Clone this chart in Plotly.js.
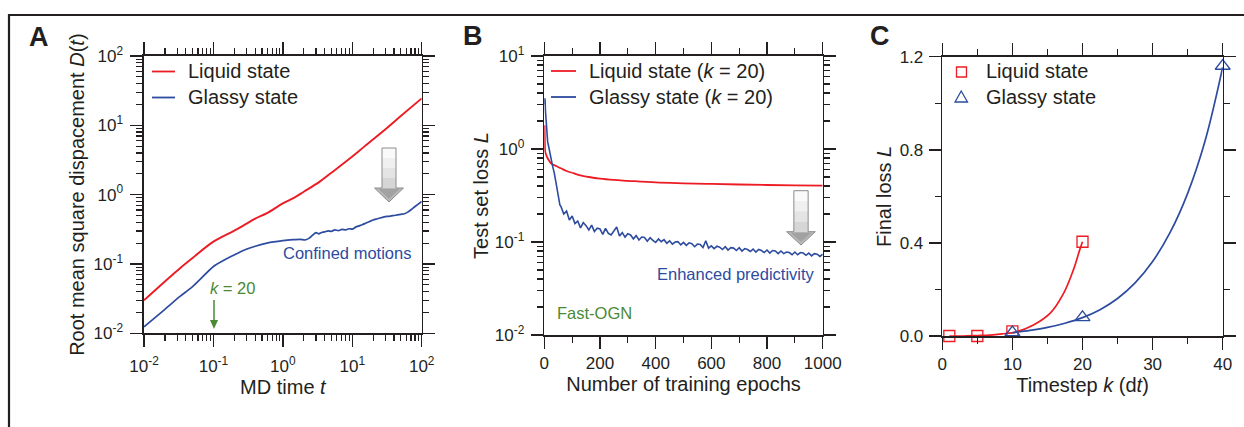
<!DOCTYPE html>
<html><head><meta charset="utf-8">
<script src="https://cdn.plot.ly/plotly-3.0.1.min.js"></script>
<style>html,body{margin:0;padding:0;background:#fff}#chart{width:1244px;height:427px}</style>
</head><body><div id="chart"></div>
<script>
// ---------- Panel A data: root mean square displacement vs MD time ----------
const tA_liquid = [0.01,0.02,0.033,0.05,0.1,0.2,0.28,0.4,0.59,1,1.42,2,3.4,5,9.3,15,31.3,50,100];
const DA_liquid = [0.030,0.056,0.087,0.122,0.21,0.303,0.366,0.45,0.54,0.75,0.89,1.10,1.54,2.07,3.35,4.97,9.08,13.6,24.5];
const tA_glassy = [0.01,0.02,0.033,0.05,0.1,0.15,0.2,0.28,0.4,0.59,1,1.4,1.78,2.1,2.4,2.7,3.0,3.3,3.6,4.0,4.5,5,5.6,6.3,7.1,8,9,10,11.2,12.6,14.1,15.8,17.8,20,22.4,25.1,28.2,31.6,35.5,39.8,44.7,50.1,56.2,63.1,70.8,79.4,89.1,100];
const DA_glassy = [0.0124,0.0222,0.034,0.047,0.092,0.117,0.135,0.159,0.18,0.20,0.217,0.224,0.227,0.222,0.236,0.262,0.283,0.272,0.285,0.29,0.30,0.296,0.31,0.302,0.315,0.31,0.322,0.318,0.34,0.355,0.37,0.39,0.41,0.43,0.445,0.46,0.475,0.485,0.49,0.50,0.51,0.52,0.53,0.56,0.61,0.67,0.73,0.80];

// ---------- Panel B data: test set loss vs training epochs ----------
const epB_liquid = [1,2,3,6,10,16,24,40,60,80,104,130,160,200,250,300,400,500,600,700,800,900,1000];
const LB_liquid = [1.8,1.2,0.95,0.88,0.82,0.76,0.70,0.66,0.62,0.58,0.55,0.52,0.5,0.48,0.465,0.455,0.437,0.428,0.421,0.415,0.41,0.406,0.403];
const epB_glassy = [1,2,3,4,6,9,12,16,20,25,30,36,42,48,52,56,60,70,80,90,100,110,120,130,140,150,160,170,180,190,200,210,220,230,240,250,260,270,280,290,300,310,320,330,340,350,360,370,380,390,400,410,420,430,440,450,460,470,480,490,500,510,520,530,540,550,560,570,580,590,600,610,620,630,640,650,660,670,680,690,700,710,720,730,740,750,760,770,780,790,800,810,820,830,840,850,860,870,880,890,900,910,920,930,940,950,960,970,980,990,1000];
const LB_glassy = [3.0,3.5,3.3,2.6,2.1,1.5,1.2,1.05,0.9,0.75,0.65,0.55,0.42,0.32,0.28,0.25,
 0.24,0.20,0.215,0.172,0.19,0.158,0.168,0.142,0.162,0.15,0.135,0.152,0.13,0.141,0.138,0.121,0.14,0.124,0.119,0.133,0.145,0.116,0.126,0.113,0.123,0.119,0.108,0.117,0.105,0.113,0.112,0.102,0.111,0.104,0.099,0.108,0.101,0.106,0.097,0.103,0.095,0.1,0.101,0.093,0.099,0.092,0.098,0.096,0.089,0.095,0.094,0.087,0.103,0.086,0.091,0.085,0.09,0.088,0.083,0.089,0.082,0.087,0.086,0.081,0.087,0.08,0.085,0.083,0.079,0.084,0.078,0.083,0.081,0.077,0.082,0.076,0.081,0.08,0.075,0.08,0.075,0.078,0.077,0.073,0.078,0.073,0.077,0.076,0.072,0.076,0.071,0.075,0.074,0.07,0.074];

// ---------- Panel C data: final loss vs timestep ----------
const kC_liquid = [1,5,10,20];
const LC_liquid = [0,0,0.02,0.405];
const kC_glassy = [10,20,40];
const LC_glassy = [0.015,0.08,1.16];
const kC_liquidFit = [1,3,5,6.8,8.5,10.6,13,15.4,17.3,18.7,19.6,20];
const LC_liquidFit = [0,0,0.002,0.004,0.009,0.018,0.047,0.098,0.183,0.284,0.37,0.405];
const kC_glassyFit = [10,12.5,15,17.5,20,22.5,25,27.5,30,32.5,35,37.5,40];
const LC_glassyFit = [0.014,0.024,0.037,0.055,0.079,0.113,0.161,0.228,0.32,0.445,0.613,0.84,1.155];

// ---------- tick labels ----------
const logValsA = [0.01,0.1,1,10,100];
const logTextA = ['10<sup>-2</sup>','10<sup>-1</sup>','10<sup>0</sup>','10<sup>1</sup>','10<sup>2</sup>'];
const logValsB = [0.01,0.1,1,10];
const logTextB = ['10<sup>-2</sup>','10<sup>-1</sup>','10<sup>0</sup>','10<sup>1</sup>'];

const RED = '#ec1c24', BLUE = '#2d4b9f', GREEN = '#4a8a35', INK = '#231f20';
const FONT = 'Liberation Sans, Arial, Helvetica, sans-serif';
const W = 1244, H = 427;
const px = x => x / W, py = y => 1 - y / H;

function minorLog(lo, hi) {
  const out = [];
  for (let d = lo; d < hi; d++) for (let m = 2; m <= 9; m++) out.push(m * Math.pow(10, d));
  return out;
}

const minorStyle = {ticks: 'outside', ticklen: 6, tickwidth: 1.2, tickcolor: INK, showgrid: false};
function axisBase(extra) {
  return Object.assign({
    showline: true, linecolor: INK, linewidth: 1.6, mirror: 'ticks',
    ticks: 'outside', ticklen: 12, tickwidth: 1.4, tickcolor: INK,
    showgrid: false, zeroline: false, fixedrange: true,
    tickfont: {family: FONT, size: 17, color: INK}
  }, extra);
}
const titleFont = {family: FONT, size: 20, color: INK};

const traces = [
  {x: tA_liquid, y: DA_liquid, xaxis: 'x', yaxis: 'y', mode: 'lines', line: {color: RED, width: 1.9, shape: 'spline'}, name: 'Liquid state', showlegend: false},
  {x: tA_glassy, y: DA_glassy, xaxis: 'x', yaxis: 'y', mode: 'lines', line: {color: BLUE, width: 1.7, shape: 'spline', smoothing: 0.6}, name: 'Glassy state', showlegend: false},
  {x: epB_liquid, y: LB_liquid, xaxis: 'x2', yaxis: 'y2', mode: 'lines', line: {color: RED, width: 1.8, shape: 'spline'}, name: 'Liquid state (k = 20)', showlegend: false},
  {x: epB_glassy, y: LB_glassy, xaxis: 'x2', yaxis: 'y2', mode: 'lines', line: {color: BLUE, width: 1.6}, name: 'Glassy state (k = 20)', showlegend: false},
  {x: kC_liquidFit, y: LC_liquidFit, xaxis: 'x3', yaxis: 'y3', mode: 'lines', line: {color: RED, width: 1.7, shape: 'spline'}, showlegend: false, cliponaxis: false},
  {x: kC_glassyFit, y: LC_glassyFit, xaxis: 'x3', yaxis: 'y3', mode: 'lines', line: {color: BLUE, width: 1.7, shape: 'spline'}, showlegend: false, cliponaxis: false},
  {x: kC_liquid, y: LC_liquid, xaxis: 'x3', yaxis: 'y3', mode: 'markers', name: 'Liquid state', showlegend: false, cliponaxis: false,
   marker: {symbol: 'square-open', size: 11, color: RED, line: {width: 1.3, color: RED}}},
  {x: kC_glassy, y: LC_glassy, xaxis: 'x3', yaxis: 'y3', mode: 'markers', name: 'Glassy state', showlegend: false, cliponaxis: false,
   marker: {symbol: 'triangle-up-open', size: 13, color: BLUE, line: {width: 1.3, color: BLUE}}}
];

function grayArrow(cx, shaftW, headW, top, headStart, tip) {
  const shapes = [];
  const bands = ['#fafafa', '#f0f0f0', '#e4e4e4', '#d6d6d6'];
  const h = (headStart - top) / bands.length;
  bands.forEach((c, i) => shapes.push({type: 'rect', xref: 'paper', yref: 'paper',
    x0: px(cx - shaftW / 2), x1: px(cx + shaftW / 2), y0: py(top + h * (i + 1)), y1: py(top + h * i),
    fillcolor: c, line: {width: 0}}));
  shapes.push({type: 'path', xref: 'paper', yref: 'paper',
    path: `M ${px(cx + headW / 2)} ${py(headStart)} L ${px(cx)} ${py(tip)} L ${px(cx - headW / 2)} ${py(headStart)} Z`,
    fillcolor: '#b9b9b9', line: {width: 0}});
  shapes.push({type: 'path', xref: 'paper', yref: 'paper',
    path: `M ${px(cx + headW / 2 - 4)} ${py(headStart + 1)} L ${px(cx)} ${py(tip - 3)} L ${px(cx - headW / 2 + 4)} ${py(headStart + 1)} Z`,
    fillcolor: '#a2a2a2', line: {width: 0}});
  shapes.push({type: 'path', xref: 'paper', yref: 'paper',
    path: `M ${px(cx - shaftW / 2)} ${py(top)} L ${px(cx + shaftW / 2)} ${py(top)} L ${px(cx + shaftW / 2)} ${py(headStart)} L ${px(cx + headW / 2)} ${py(headStart)} L ${px(cx)} ${py(tip)} L ${px(cx - headW / 2)} ${py(headStart)} L ${px(cx - shaftW / 2)} ${py(headStart)} Z`,
    fillcolor: 'rgba(0,0,0,0)', line: {color: '#8c8c8c', width: 1}});
  return shapes;
}

const shapes = [
  // outer frame (top and left rules)
  {type: 'path', xref: 'paper', yref: 'paper', path: `M ${px(9)} ${py(427)} L ${px(9)} ${py(15)} L ${px(1244)} ${py(15)}`,
   line: {color: INK, width: 2.2}},
  // legend line samples panel A
  {type: 'line', xref: 'paper', yref: 'paper', x0: px(152), x1: px(175), y0: py(71.5), y1: py(71.5), line: {color: RED, width: 1.8}},
  {type: 'line', xref: 'paper', yref: 'paper', x0: px(152), x1: px(175), y0: py(97.5), y1: py(97.5), line: {color: BLUE, width: 1.8}},
  // legend line samples panel B
  {type: 'line', xref: 'paper', yref: 'paper', x0: px(551), x1: px(576), y0: py(71), y1: py(71), line: {color: RED, width: 1.8}},
  {type: 'line', xref: 'paper', yref: 'paper', x0: px(551), x1: px(576), y0: py(97), y1: py(97), line: {color: BLUE, width: 1.8}},
  // legend marker samples panel C
  {type: 'rect', xref: 'paper', yref: 'paper', x0: px(956.5), x1: px(966.5), y0: py(77), y1: py(67),
   line: {color: RED, width: 1.3}, fillcolor: 'rgba(0,0,0,0)'},
  {type: 'path', xref: 'paper', yref: 'paper', path: `M ${px(955)} ${py(102)} L ${px(967.5)} ${py(102)} L ${px(961.2)} ${py(91)} Z`,
   line: {color: BLUE, width: 1.3}, fillcolor: 'rgba(0,0,0,0)'},
  // green k = 20 arrow in panel A
  {type: 'line', xref: 'paper', yref: 'paper', x0: px(214), x1: px(214), y0: py(300), y1: py(321), line: {color: GREEN, width: 1.5}},
  {type: 'path', xref: 'paper', yref: 'paper', path: `M ${px(210)} ${py(320)} L ${px(218)} ${py(320)} L ${px(214)} ${py(329)} Z`,
   fillcolor: GREEN, line: {width: 0}},
  ...grayArrow(389, 14, 29, 148, 188, 202),
  ...grayArrow(801, 14.3, 28.7, 190.7, 231.7, 245)
];

function txt(x, y, text, opts) {
  return Object.assign({xref: 'paper', yref: 'paper', x: px(x), y: py(y), text: text, showarrow: false,
    xanchor: 'left', yanchor: 'middle', font: {family: FONT, size: 20, color: INK}}, opts || {});
}

const annotations = [
  txt(39, 37, '<b>A</b>', {xanchor: 'center', font: {family: FONT, size: 27, color: INK}}),
  txt(473, 36, '<b>B</b>', {xanchor: 'center', font: {family: FONT, size: 27, color: INK}}),
  txt(880, 36, '<b>C</b>', {xanchor: 'center', font: {family: FONT, size: 27, color: INK}}),
  txt(186, 71, 'Liquid state'),
  txt(186, 97, 'Glassy state'),
  txt(587, 71, 'Liquid state (<i>k</i> = 20)'),
  txt(587, 97, 'Glassy state (<i>k</i> = 20)'),
  txt(984, 71, 'Liquid state'),
  txt(984, 97, 'Glassy state'),
  txt(413, 253, 'Confined motions', {xanchor: 'right', font: {family: FONT, size: 16.5, color: BLUE}}),
  txt(817, 274, 'Enhanced predictivity', {xanchor: 'right', font: {family: FONT, size: 16.5, color: BLUE}}),
  txt(555, 313, 'Fast-OGN', {font: {family: FONT, size: 16.5, color: GREEN}}),
  txt(232, 288, '<i>k</i> = 20', {xanchor: 'center', font: {family: FONT, size: 16.5, color: GREEN}})
];

const layout = {
  width: W, height: H, margin: {l: 0, r: 0, t: 0, b: 0},
  paper_bgcolor: '#fff', plot_bgcolor: 'rgba(0,0,0,0)', showlegend: false,
  font: {family: FONT, color: INK},
  xaxis: axisBase({type: 'log', range: [-2, 2], domain: [px(144), px(421.7)], anchor: 'y',
    tickmode: 'array', tickvals: logValsA, ticktext: logTextA, ticklabelstandoff: 5,
    minor: Object.assign({tickmode: 'array', tickvals: minorLog(-2, 2)}, minorStyle),
    title: {text: 'MD time <i>t</i>', font: titleFont, standoff: 0}}),
  yaxis: axisBase({type: 'log', range: [-2, 2], domain: [py(333.3), py(56)], anchor: 'x',
    tickmode: 'array', tickvals: logValsA, ticktext: logTextA, ticklabelstandoff: 4,
    minor: Object.assign({tickmode: 'array', tickvals: minorLog(-2, 2)}, minorStyle),
    title: {text: 'Root mean square dispacement <i>D</i>(<i>t</i>)', font: titleFont, standoff: 3}}),
  xaxis2: axisBase({range: [0, 1000], domain: [px(544.3), px(822.7)], anchor: 'y2',
    tickmode: 'linear', tick0: 0, dtick: 200,
    minor: Object.assign({dtick: 100}, minorStyle),
    title: {text: 'Number of training epochs', font: titleFont, standoff: 0}}),
  yaxis2: axisBase({type: 'log', range: [-2, 1], domain: [py(335), py(56)], anchor: 'x2',
    tickmode: 'array', tickvals: logValsB, ticktext: logTextB, ticklabelstandoff: 3,
    minor: Object.assign({tickmode: 'array', tickvals: minorLog(-2, 1)}, minorStyle),
    title: {text: 'Test set loss <i>L</i>', font: titleFont, standoff: 1}}),
  xaxis3: axisBase({range: [0, 40], domain: [px(942.3), px(1222.7)], anchor: 'y3',
    tickmode: 'linear', tick0: 0, dtick: 10,
    minor: Object.assign({dtick: 5}, minorStyle),
    title: {text: 'Timestep <i>k</i> (d<i>t</i>)', font: titleFont, standoff: 0}}),
  yaxis3: axisBase({range: [0, 1.2], domain: [py(336), py(56.7)], anchor: 'x3',
    tickmode: 'linear', tick0: 0, dtick: 0.4, tickformat: '.1f', ticklabelstandoff: 2,
    minor: Object.assign({dtick: 0.2}, minorStyle),
    title: {text: 'Final loss <i>L</i>', font: titleFont, standoff: 2}}),
  shapes: shapes,
  annotations: annotations
};

Plotly.newPlot('chart', traces, layout, {displayModeBar: false, staticPlot: true});
</script></body></html>
